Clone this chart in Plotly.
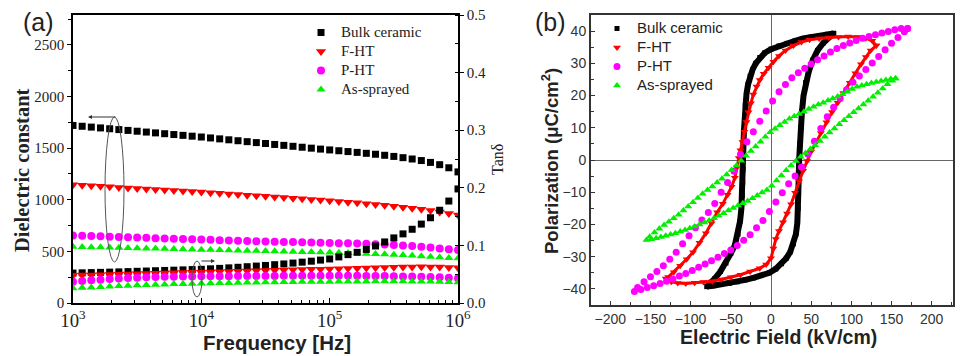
import plotly.graph_objects as go

# ---------------- Panel (a) data ----------------
freq = [1000, 1179, 1389, 1638, 1931, 2276, 2683, 3162, 3728, 4394, 5179, 6105, 7197, 8483,
        10000, 11788, 13895, 16379, 19307, 22758, 26827, 31623, 37276, 43940, 51795, 61054, 71969, 84834,
        100000, 117877, 138950, 163789, 193070, 227585, 268270, 316228, 372759, 439397, 517947, 610540, 719686, 848343,
        1000000]

bulk_eps = [1720, 1712, 1704, 1696, 1688, 1680, 1672, 1664, 1656, 1648, 1640, 1632, 1624, 1616,
            1608, 1599, 1590, 1581, 1572, 1563, 1554, 1545, 1536, 1527, 1518, 1509, 1500, 1491,
            1483, 1475, 1467, 1459, 1450, 1441, 1431, 1420, 1408, 1395, 1380, 1362, 1340, 1310,
            1270]
fht_eps = [1145, 1140, 1135, 1130, 1125, 1120, 1115, 1110, 1105, 1100, 1095, 1090, 1085, 1080,
           1075, 1069, 1063, 1057, 1051, 1045, 1039, 1033, 1027, 1021, 1015, 1009, 1003, 997,
           991, 984, 977, 970, 962, 954, 946, 937, 928, 918, 907, 895, 882, 868,
           853]
pht_eps = [655, 652, 649, 646, 643, 640, 637, 634, 631, 628, 625, 622, 619, 617,
           615, 612, 609, 606, 603, 600, 598, 596, 594, 592, 590, 588, 586, 584,
           582, 580, 578, 576, 573, 570, 566, 562, 557, 551, 544, 537, 529, 521,
           513]
as_eps = [545, 543, 541, 539, 537, 535, 533, 531, 529, 527, 525, 523, 521, 519,
          517, 515, 513, 511, 509, 507, 505, 503, 501, 499, 497, 495, 493, 491,
          489, 487, 484, 481, 478, 475, 472, 468, 464, 459, 454, 448, 442, 437,
          433]

bulk_tan = [0.052, 0.0524, 0.0528, 0.0532, 0.0536, 0.054, 0.0545, 0.055, 0.0555, 0.056, 0.0565, 0.057, 0.0575, 0.058,
            0.0585, 0.0593, 0.0601, 0.061, 0.062, 0.063, 0.0641, 0.0652, 0.0665, 0.0678, 0.0693, 0.0709, 0.0726, 0.0745,
            0.0765, 0.080, 0.084, 0.088, 0.093, 0.099, 0.106, 0.113, 0.120, 0.128, 0.137, 0.148, 0.161, 0.177,
            0.198]
fht_tan = [0.048, 0.0484, 0.0488, 0.0492, 0.0496, 0.05, 0.0504, 0.0508, 0.0512, 0.0516, 0.052, 0.0524, 0.0528, 0.0532,
           0.0536, 0.054, 0.0544, 0.0548, 0.0552, 0.0556, 0.056, 0.0564, 0.0568, 0.0572, 0.0576, 0.058, 0.0584, 0.0588,
           0.0592, 0.0596, 0.06, 0.0604, 0.0608, 0.0612, 0.0616, 0.062, 0.0624, 0.0627, 0.0628, 0.0627, 0.0623, 0.0617,
           0.061]
pht_tan = [0.037, 0.0382, 0.0394, 0.0405, 0.0415, 0.0424, 0.0432, 0.0439, 0.0445, 0.045, 0.0454, 0.0457, 0.0459, 0.0461,
           0.0463, 0.0464, 0.0465, 0.0466, 0.0467, 0.0468, 0.0469, 0.047, 0.047, 0.0471, 0.0471, 0.0472, 0.0472, 0.0472,
           0.0472, 0.0472, 0.0472, 0.0471, 0.047, 0.0469, 0.0467, 0.0465, 0.0462, 0.0459, 0.0455, 0.0451, 0.0446, 0.0438,
           0.043]
as_tan = [0.0255, 0.0263, 0.0271, 0.0279, 0.0287, 0.0294, 0.0301, 0.0307, 0.0313, 0.0318, 0.0323, 0.0328, 0.0332, 0.0336,
          0.034, 0.0343, 0.0346, 0.0349, 0.0352, 0.0355, 0.0357, 0.0359, 0.0361, 0.0363, 0.0365, 0.0367, 0.0369, 0.037,
          0.0371, 0.0372, 0.0373, 0.0374, 0.0375, 0.0376, 0.0376, 0.0376, 0.0376, 0.0375, 0.0374, 0.0372, 0.0369, 0.0365,
          0.036]

# ---------------- Panel (b) data (P-E loops) ----------------
bulk_E_up = [78, 70, 60, 50, 40, 30, 20, 10, 0, -8, -14, -19, -23, -26, -28.5, -30.5, -32, -33, -33.7,
             -34.2, -34.5, -34.8, -35.2, -35.8, -36.8, -38.5, -41, -45, -50, -56, -63, -70, -76, -80]
bulk_P_up = [39.3, 39.0, 38.6, 38.2, 37.7, 37.0, 36.2, 35.4, 34.4, 33.2, 31.8, 30.0, 28.0, 26.0, 23.5, 20.5, 17, 13, 9,
             5, 1, -3, -7, -11, -15, -19, -23, -26.5, -29, -32, -34.6, -36.8, -38.5, -39.3]
bulk_E_dn = [-72, -62, -52, -42, -32, -22, -12, -2, 6, 13, 19, 24, 28, 31, 32.8, 33.8, 34.3, 34.6, 35, 35.8,
             37, 38.5, 40.5, 43, 47, 52, 58, 65, 72, 78]
bulk_P_dn = [-39, -38.6, -38.3, -37.8, -37.2, -36.6, -35.8, -35.0, -33.8, -32.2, -30.5, -28.5, -26, -23, -19.5, -15, -10, -5, 0, 5,
             10, 15, 20, 24, 27.5, 31, 34, 36.3, 38.2, 39.3]

fht_E_up = [131, 126, 118, 108, 96, 84, 72, 60, 48, 38, 28, 18, 10, 3, -3, -9, -14, -18, -22, -25,
            -28, -30.5, -33, -35.5, -38, -40, -42.5, -45, -49, -54, -60, -67, -74, -81, -89, -97, -105, -113, -121, -128, -131]
fht_P_up = [35.5, 37.0, 37.8, 38.2, 38.3, 38.2, 38.0, 37.7, 37.3, 36.6, 35.5, 34.0, 32.3, 30.5, 28.6, 26.8, 24.8, 22.8, 20.3, 17.6,
            14.8, 11.8, 8.8, 5.6, 3.0, 0.6, -2.3, -5.5, -8.3, -10.8, -13.6, -16.2, -19.6, -22.7, -25.7, -28.6, -30.8, -32.8, -34.8, -36.3, -36.8]
fht_E_dn = [-124, -116, -106, -95, -84, -73, -62, -50, -38, -26, -14, -6, 0, 3, 6, 10, 15, 20, 25, 30,
            35, 40, 45, 50, 56, 62, 69, 76, 83, 90, 98, 105, 112, 118, 124, 131]
fht_P_dn = [-37.8, -38.2, -38.3, -38.1, -37.9, -37.6, -37.1, -36.4, -35.6, -34.6, -33.6, -32.4, -30.5, -27.5, -24.5, -22.0, -19.3, -16.6, -13.7, -10.2,
            -6.6, -3.3, -0.3, 2.6, 5.4, 8.4, 11.7, 14.9, 17.8, 20.8, 24.0, 26.9, 29.7, 32.0, 34.0, 35.5]

pht_E_up = [170, 162, 154, 146, 138, 130, 122, 114, 106, 98, 90, 82, 74, 66, 58, 50, 42, 34, 26, 18,
            10, 2, -6, -14, -22, -30, -38, -46, -54, -62, -70, -78, -86, -94, -102, -110, -118, -126, -134, -142,
            -150, -158, -166, -170]
pht_P_up = [40.8, 40.8, 40.4, 39.9, 39.4, 38.9, 38.3, 37.8, 37.1, 36.3, 35.5, 34.6, 33.5, 32.3, 31.1, 29.8, 28.5, 27.1, 25.5, 23.4,
            21.2, 18.3, 15.2, 12.0, 8.8, 5.7, 1.8, -3.5, -7.0, -10.0, -13.5, -16.3, -18.6, -21.0, -23.5, -26.0, -28.6, -30.8, -32.8, -34.6,
            -36.2, -37.8, -39.6, -40.8]
pht_E_dn = [-162, -154, -146, -138, -130, -122, -114, -106, -98, -90, -82, -74, -66, -58, -50, -42, -34, -26, -18, -10,
            -2, 6, 14, 22, 30, 38, 46, 54, 62, 70, 78, 86, 94, 102, 110, 118, 126, 134, 142, 150,
            158, 166, 170]
pht_P_dn = [-40.2, -39.6, -39.0, -38.3, -37.6, -36.9, -36.0, -35.2, -34.3, -33.3, -32.3, -31.3, -30.2, -29.0, -27.9, -26.5, -24.9, -23.2, -21.0, -18.8,
            -16.0, -13.0, -10.2, -7.4, -5.0, -2.2, 1.8, 5.8, 9.8, 13.4, 16.4, 19.1, 21.8, 24.1, 26.1, 28.1, 30.1, 32.1, 34.2, 36.2,
            38.0, 39.8, 40.8]

as_E_up = [155, 149, 143, 137, 131, 125, 119, 113, 107, 101, 95, 89, 83, 77, 71, 65, 59, 53, 47, 41,
           35, 29, 23, 17, 11, 5, -1, -7, -13, -19, -25, -31, -37, -43, -49, -55, -61, -67, -73, -79,
           -85, -91, -97, -103, -109, -115, -121, -127, -133, -139, -145, -151, -155]
as_P_up = [25.3, 25.1, 24.8, 24.5, 24.2, 23.9, 23.5, 23.1, 22.7, 22.0, 21.2, 20.4, 19.7, 19.1, 18.5, 17.8, 17.2, 16.5, 15.8, 15.0,
           14.3, 13.6, 12.8, 11.8, 10.8, 9.7, 8.6, 7.2, 5.7, 4.2, 2.8, 1.3, -0.2, -1.7, -3.1, -4.5, -5.8, -7.0, -8.2, -9.3,
           -10.5, -11.8, -13.1, -14.4, -15.7, -17.0, -18.1, -19.2, -20.2, -21.3, -22.5, -23.8, -24.8]
as_E_dn = [-149, -143, -137, -131, -125, -119, -113, -107, -101, -95, -89, -83, -77, -71, -65, -59, -53, -47, -41, -35,
           -29, -23, -17, -11, -5, 1, 7, 13, 19, 25, 31, 37, 43, 49, 55, 61, 67, 73, 79, 85,
           91, 97, 103, 109, 115, 121, 127, 133, 139, 145, 151, 155]
as_P_dn = [-24.6, -24.3, -23.9, -23.5, -23.1, -22.7, -22.2, -21.7, -21.2, -20.6, -20.0, -19.4, -18.8, -18.1, -17.3, -16.5, -15.7, -14.9, -14.1, -13.4,
           -12.7, -11.9, -11.0, -10.1, -9.3, -8.0, -6.4, -4.8, -3.2, -1.7, -0.3, 1.0, 2.2, 3.4, 4.6, 5.9, 7.2, 8.5, 9.8, 11.1,
           12.3, 13.6, 14.8, 16.0, 17.2, 18.4, 19.6, 20.9, 22.2, 23.5, 24.6, 25.3]

names = ["Bulk ceramic", "F-HT", "P-HT", "As-sprayed"]
colors = ["#000000", "#FF0000", "#FF00FF", "#00EE00"]
symbols = ["square", "triangle-down", "circle", "triangle-up"]

W, H = 961, 356
def px(x):
    return x / W
def py(y):
    return 1 - y / H

SERIF = "Liberation Serif, Times New Roman, serif"
SANS = "Liberation Sans, Arial, sans-serif"

fig = go.Figure()

eps_sets = [bulk_eps, fht_eps, pht_eps, as_eps]
tan_sets = [bulk_tan, fht_tan, pht_tan, as_tan]
size_a = [7, 9, 8, 8]
for i in range(4):
    fig.add_trace(go.Scatter(
        x=freq, y=eps_sets[i], mode="markers", xaxis="x", yaxis="y",
        name="<span style='font-size:15px'>%s</span>" % names[i], legend="legend",
        marker=dict(symbol=symbols[i], color=colors[i], size=size_a[i], line=dict(width=0))))
for i in range(4):
    fig.add_trace(go.Scatter(
        x=freq, y=tan_sets[i], mode="markers", xaxis="x", yaxis="y2", showlegend=False,
        marker=dict(symbol=symbols[i], color=colors[i], size=size_a[i], line=dict(width=0))))

loops = [(bulk_E_up + bulk_E_dn, bulk_P_up + bulk_P_dn, 5, 6),
         (fht_E_up + fht_E_dn, fht_P_up + fht_P_dn, 7, 3),
         (pht_E_up + pht_E_dn, pht_P_up + pht_P_dn, 7, 0),
         (as_E_up + as_E_dn, as_P_up + as_P_dn, 7, 0)]
for i, (E, P, ms, lw) in enumerate(loops):
    if lw > 0:
        fig.add_trace(go.Scatter(x=E, y=P, mode="lines", xaxis="x2", yaxis="y3", showlegend=False,
                                 line=dict(color=colors[i], width=lw), hoverinfo="skip"))
    fig.add_trace(go.Scatter(
        x=E, y=P, mode="markers", xaxis="x2", yaxis="y3",
        name="<span style='font-size:15px'>%s</span>" % names[i], legend="legend2",
        marker=dict(symbol=symbols[i], color=colors[i], size=ms, line=dict(width=0))))

ax_a = dict(showgrid=False, zeroline=False, showline=True, linecolor="black", linewidth=1.5,
            tickcolor="black", tickfont=dict(family=SERIF, size=15, color="#222"), automargin=False)
ax_b = dict(showgrid=False, showline=True, linecolor="#333", linewidth=2, mirror=True,
            tickcolor="#333", tickfont=dict(family=SANS, size=14, color="#333"),
            zeroline=True, zerolinecolor="#666", zerolinewidth=1.2, automargin=False)

fig.update_layout(
    width=W, height=H, margin=dict(l=0, r=0, t=0, b=0, pad=0, autoexpand=False),
    paper_bgcolor="white", plot_bgcolor="white",
    xaxis=dict(**ax_a, type="log", range=[3, 6], domain=[px(73), px(458)], anchor="y",
               mirror=True, dtick=1, exponentformat="power", ticks="inside", ticklen=5,
               minor=dict(ticks="inside", ticklen=3, tickcolor="black", dtick="D1")),
    yaxis=dict(**ax_a, range=[0, 2790], domain=[py(303), py(15)], anchor="x",
               dtick=500, ticks="outside", ticklen=4,
               minor=dict(ticks="outside", ticklen=3, tickcolor="black", dtick=250)),
    yaxis2=dict(**ax_a, range=[0, 0.5], overlaying="y", side="right", anchor="x",
                dtick=0.1, tickformat=".1f", ticks="outside", ticklen=4,
                minor=dict(ticks="inside", ticklen=3, tickcolor="black", dtick=0.05)),
    xaxis2=dict(**ax_b, range=[-224, 226.5], domain=[px(591), px(953)], anchor="y3",
                dtick=50, ticks="inside", ticklen=4,
                minor=dict(ticks="inside", ticklen=3, tickcolor="#333", dtick=25)),
    yaxis3=dict(**ax_b, range=[-45, 45], domain=[py(305), py(15)], anchor="x2",
                dtick=10, ticks="inside", ticklen=4,
                minor=dict(ticks="inside", ticklen=3, tickcolor="#333", dtick=5)),
    legend=dict(x=px(301), y=py(18), xanchor="left", yanchor="top", bgcolor="rgba(0,0,0,0)",
                font=dict(family=SERIF, size=12, color="#222"), itemwidth=30, tracegroupgap=0),
    legend2=dict(x=px(597), y=py(14), xanchor="left", yanchor="top", bgcolor="rgba(0,0,0,0)",
                 font=dict(family=SANS, size=12, color="#222"), itemwidth=30, tracegroupgap=0),
    showlegend=True,
)

ann = [
    dict(text="(a)", x=px(38), y=py(22), font=dict(family=SANS, size=25, color="#222")),
    dict(text="(b)", x=px(550), y=py(22), font=dict(family=SANS, size=25, color="#222")),
    dict(text="<b>Dielectric constant</b>", x=px(22), y=py(170), textangle=-90,
         font=dict(family=SERIF, size=20.5, color="#222")),
    dict(text="<b>Frequency [Hz]</b>", x=px(277), y=py(342), font=dict(family=SANS, size=20.5, color="#222")),
    dict(text="Tanδ", x=px(497), y=py(160), textangle=-90, font=dict(family=SERIF, size=16, color="#222")),
    dict(text="<b>Polarization (μC/cm<sup>2</sup>)</b>", x=px(550), y=py(161), textangle=-90,
         font=dict(family=SANS, size=18.5, color="#222")),
    dict(text="<b>Electric Field (kV/cm)</b>", x=px(778), y=py(337), font=dict(family=SANS, size=19.5, color="#222")),
]
for a in ann:
    a.update(xref="paper", yref="paper", showarrow=False, xanchor="center", yanchor="middle")
    fig.add_annotation(**a)

# arrows of the annotation ellipses
fig.add_annotation(x=px(88), y=py(117), xref="paper", yref="paper", ax=29, ay=0, text="",
                   showarrow=True, arrowhead=2, arrowsize=0.8, arrowwidth=1, arrowcolor="#333")
fig.add_annotation(x=px(215), y=py(261), xref="paper", yref="paper", ax=-15, ay=0, text="",
                   showarrow=True, arrowhead=2, arrowsize=0.8, arrowwidth=1, arrowcolor="#333")
fig.add_shape(type="circle", xref="paper", yref="paper", x0=px(105), x1=px(124), y0=py(262), y1=py(117),
              line=dict(color="#555", width=1))
fig.add_shape(type="circle", xref="paper", yref="paper", x0=px(192), x1=px(202), y0=py(297), y1=py(261),
              line=dict(color="#555", width=1))

fig.write_html("out.html", config={"displayModeBar": False},
               post_script="document.body.style.margin='0';document.body.style.overflow='hidden';")
